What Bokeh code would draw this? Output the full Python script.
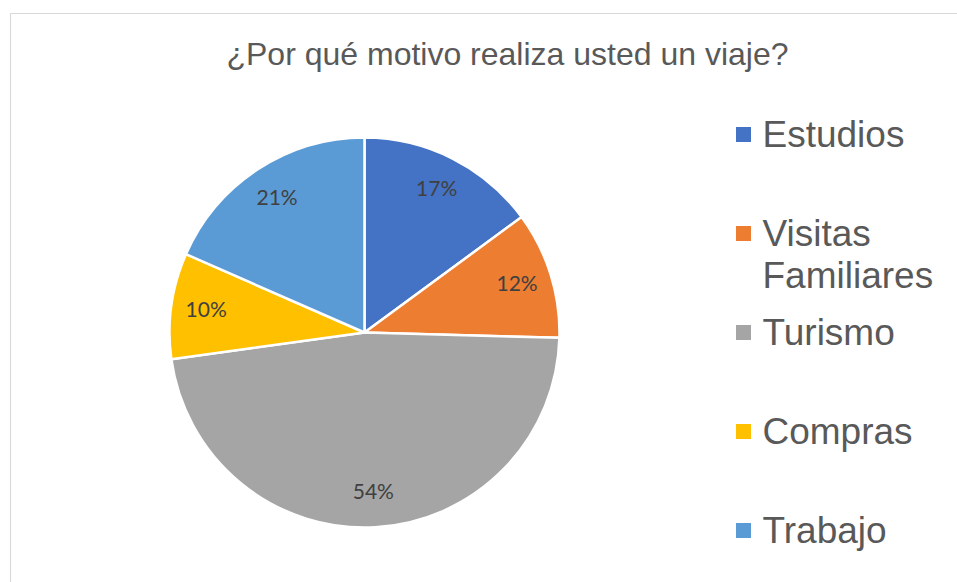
import numpy as np
from bokeh.plotting import figure
from bokeh.models import Range1d, ColumnDataSource
from bokeh.core.properties import value
from bokeh.embed import file_html
from bokeh.resources import INLINE

# ---- data ----
title = "¿Por qué motivo realiza usted un viaje?"
categories = ["Estudios", "Visitas Familiares", "Turismo", "Compras", "Trabajo"]
values = [17, 12, 54, 10, 21]
labels = ["17%", "12%", "54%", "10%", "21%"]
colors = ["#4472C4", "#ED7D31", "#A5A5A5", "#FFC000", "#5B9BD5"]

# ---- layout (page pixels) ----
W, H = 957, 582
OX, OY = 0, 0              # canvas origin on the page
CX, CY = 364, 332          # pie centre in page px
R = 195

p = figure(width=W, height=H, output_backend="svg", toolbar_location=None,
           x_range=Range1d(OX - CX, OX + W - CX), y_range=Range1d(CY - (OY + H), CY - OY),
           min_border=0, outline_line_color=None)
p.xaxis.visible = False
p.yaxis.visible = False
p.xgrid.visible = False
p.ygrid.visible = False
p.background_fill_color = "white"
p.border_fill_color = "white"

def px(x):
    return x - CX

def py(y):
    return CY - y

# chart-area border (left and top edges visible)
p.line([px(10), px(10), px(980)], [py(620), py(13), py(13)], line_color="#d9d9d9", line_width=1.2)

# ---- pie ----
vals = np.array(values, dtype=float)
frac = vals / vals.sum()
cum_after = np.cumsum(frac)
cum_before = cum_after - frac
start = np.pi / 2 - cum_after * 2 * np.pi
end = np.pi / 2 - cum_before * 2 * np.pi
mid = (start + end) / 2

src = ColumnDataSource(dict(start=start, end=end, color=colors, cat=categories))
p.wedge(x=0, y=0, radius=R, start_angle="start", end_angle="end", direction="anticlock",
        fill_color="color", line_color="white", line_width=2.5, source=src)

lr = 0.82 * R
p.text(x=lr * np.cos(mid), y=lr * np.sin(mid) + 2, text=labels,
       text_font=value("Lato"), text_font_size="21px", text_color="#404040",
       text_align="center", text_baseline="middle")

# ---- title ----
p.text(x=[px(507)], y=[py(53)], text=[title], text_font=value("Liberation Sans"),
       text_font_size="32px", text_color="#595959", text_align="center", text_baseline="middle")

# ---- legend ----
ly0, lstep = 134, 99
mx, tx = 743, 762
ys = [ly0 + i * lstep for i in range(len(categories))]
p.scatter(x=[px(mx)] * len(categories), y=[py(y) for y in ys], marker="square", size=15,
          fill_color=colors, line_color=None)
tx_list, ty_list, tt_list = [], [], []
for cat, y in zip(categories, ys):
    lines = cat.split(" ") if len(cat) > 12 else [cat]
    for j, ln in enumerate(lines):
        tx_list.append(px(tx))
        ty_list.append(py(y + j * 42))
        tt_list.append(ln)
p.text(x=tx_list, y=ty_list, text=tt_list, text_font=value("Liberation Sans"),
       text_font_size="37px", text_color="#595959", text_align="left", text_baseline="middle")

open("out.html", "w").write(file_html(p, INLINE))
